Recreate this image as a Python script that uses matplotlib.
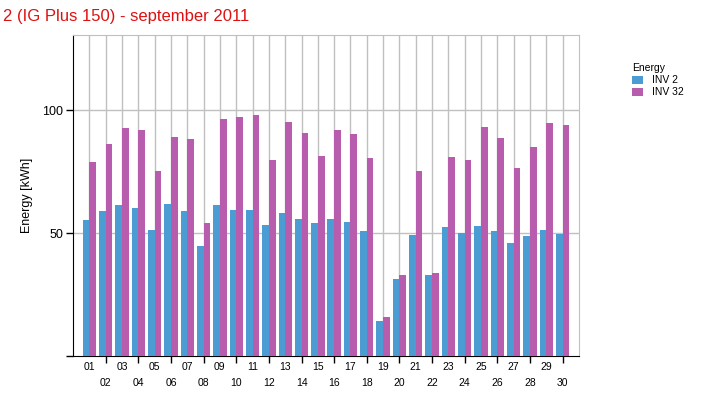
import matplotlib
matplotlib.use("Agg")
import matplotlib.pyplot as plt
from matplotlib.patches import Patch
import numpy as np

plt.rcParams['font.family'] = ['Liberation Sans', 'DejaVu Sans']

days = list(range(1, 31))
day_labels = [f"{d:02d}" for d in days]
inv2 = [55.3, 58.9, 61.4, 60.2, 51.2, 61.8, 58.9, 44.7, 61.4, 59.3,
        59.3, 53.3, 58.1, 55.7, 54.1, 55.7, 54.5, 50.8, 14.2, 31.3,
        49.2, 32.9, 52.4, 50.0, 52.8, 50.8, 45.9, 48.8, 51.2, 49.7]
inv32 = [78.9, 86.2, 92.7, 91.9, 75.2, 89.0, 88.2, 54.1, 96.3, 97.2,
         98.0, 79.7, 95.1, 90.7, 81.3, 91.9, 90.2, 80.5, 15.9, 32.9,
         75.2, 33.7, 80.9, 79.7, 93.1, 88.6, 76.4, 85.0, 94.7, 93.9]
series_names = ["INV 2", "INV 32"]
colors = ["#4b9cd3", "#b85dad"]
title = "2 (IG Plus 150) - september 2011"
ylabel = "Energy [kWh]"
legend_title = "Energy"

W, H = 713, 399
fig = plt.figure(figsize=(W / 100, H / 100), dpi=100)
ax = fig.add_axes([73 / W, 1 - 356 / H, 506 / W, 321 / H])

x = np.array(days, dtype=float)
bw = 0.41
ax.bar(x - bw / 2, inv2, width=bw, color=colors[0], zorder=3)
ax.bar(x + bw / 2, inv32, width=bw, color=colors[1], zorder=3)

ax.set_xlim(0, 31)
ax.set_ylim(0, 130.5)

# grid
for d in days:
    ax.axvline(d, color="#c0c0c0", lw=1, zorder=1)
for yv in (50, 100):
    ax.axhline(yv, color="#c0c0c0", lw=1, zorder=1)

# y ticks
ax.set_yticks([0, 50, 100], labels=["", "50", "100"])
ax.tick_params(axis="y", length=5, width=1, pad=2, labelsize=9, color="black")

# x ticks: odd days on first row (no tick), even days on second row with tick
odd = [d for d in days if d % 2 == 1]
even = [d for d in days if d % 2 == 0]
ax.set_xticks(odd, labels=[day_labels[d - 1] for d in odd])
ax.set_xticks(even, labels=[day_labels[d - 1] for d in even], minor=True)
ax.tick_params(axis="x", which="major", length=0, pad=4, labelsize=7.5)
ax.tick_params(axis="x", which="minor", length=5, width=1, pad=10.5, labelsize=7.5)

for s in ("top", "right"):
    ax.spines[s].set_color("#c0c0c0")
for s in ("left", "bottom"):
    ax.spines[s].set_color("black")

ax.set_ylabel(ylabel, fontsize=9, labelpad=7)

fig.text(3 / W, 1 - 16 / H, title, color="#dd1111", fontsize=12, va="center", ha="left")

handles = [Patch(facecolor=c, edgecolor="none") for c in colors]
leg = fig.legend(handles, series_names, title=legend_title, loc="upper left",
                 bbox_to_anchor=(625 / W, 1 - 56 / H), frameon=False,
                 fontsize=7.5, title_fontsize=7.5, handlelength=1.0, handleheight=0.8,
                 handletextpad=0.9, labelspacing=0.2, borderpad=0.2)
leg._legend_box.align = "left"

fig.savefig("out.png", dpi=100)
